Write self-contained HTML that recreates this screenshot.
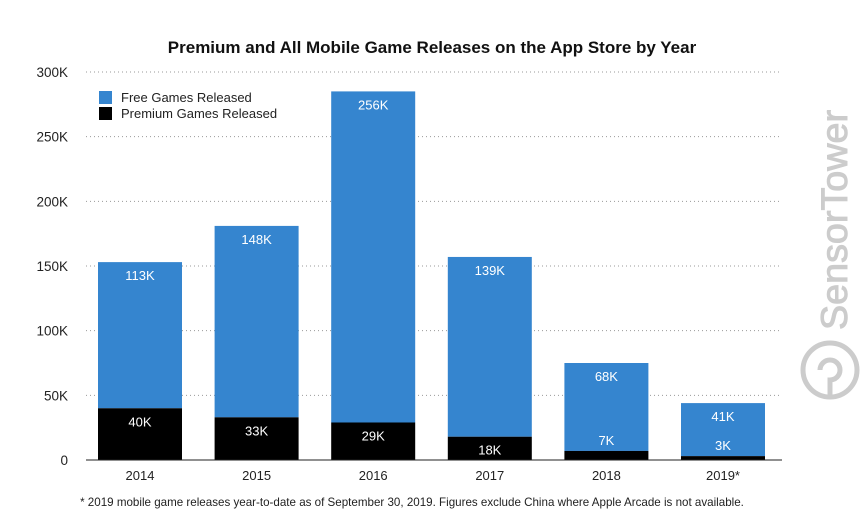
<!DOCTYPE html>
<html><head><meta charset="utf-8"><style>
body{margin:0;background:#fff;}
svg{display:block;font-family:"Liberation Sans",Arial,sans-serif;}
</style></head><body>
<svg id="chart" width="863" height="528" viewBox="0 0 863 528">
<text x="432" y="53" text-anchor="middle" font-size="17" font-weight="bold" fill="#111">Premium and All Mobile Game Releases on the App Store by Year</text>
<g id="grid"></g><g id="bars"></g><g id="labels"></g>
<g>
<rect x="99" y="91" width="13" height="13" fill="#3585cf"/>
<text x="121" y="102" font-size="13" fill="#222">Free Games Released</text>
<rect x="99" y="107" width="13" height="13" fill="#000"/>
<text x="121" y="118" font-size="13" fill="#222">Premium Games Released</text>
</g>
<g fill="none" stroke="#ccc">
<text transform="translate(847,330) rotate(-90)" font-size="37" fill="#ccc" stroke="#ccc" stroke-width="1" textLength="220" lengthAdjust="spacingAndGlyphs">SensorTower</text>
<circle cx="830" cy="370" r="27" stroke-width="5"/>
<path d="M820 370 a10 10 0 1 1 10 10 L830 397" stroke-width="5"/>
</g>
<line x1="86" y1="460" x2="782" y2="460" stroke="#222" stroke-width="1"/>
<text x="412" y="506" text-anchor="middle" font-size="11.6" fill="#222">* 2019 mobile game releases year-to-date as of September 30, 2019. Figures exclude China where Apple Arcade is not available.</text>
</svg>
<script>
const categories=["2014","2015","2016","2017","2018","2019*"];
const premium=[40,33,29,18,7,3];
const free=[113,148,256,139,68,41];
const ticks=[0,50,100,150,200,250,300];
const tickLabels=["0","50K","100K","150K","200K","250K","300K"];
const NS="http://www.w3.org/2000/svg";
const y=v=>460-v*(388/300);
const x=i=>98+i*116.6;
const bw=84;
function mk(tag,at,parent,txt){const e=document.createElementNS(NS,tag);for(const k in at)e.setAttribute(k,at[k]);if(txt!==undefined)e.textContent=txt;document.getElementById(parent).appendChild(e);return e;}
ticks.forEach((t,i)=>{
 if(t>0){const l=mk('line',{x1:86,x2:782,y1:y(t),y2:y(t),stroke:'#999','stroke-dasharray':'1 3'},'grid');
 
 }
 const tx=mk('text',{x:68,y:y(t)+5,'text-anchor':'end','font-size':13.5,fill:'#222'},'grid',tickLabels[i]);
 
 
});
categories.forEach((c,i)=>{
 const tot=premium[i]+free[i];
 const b1=mk('rect',{x:x(i),y:y(tot),width:bw,height:y(premium[i])-y(tot),fill:'#3585cf'},'bars');
 
 
 const b2=mk('rect',{x:x(i),y:y(premium[i]),width:bw,height:460-y(premium[i]),fill:'#000'},'bars');
 
 
 const l1=mk('text',{x:x(i)+bw/2,y:y(tot)+18,'text-anchor':'middle','font-size':13,fill:'#fff'},'labels',free[i]+'K');
 
 
 const py=Math.min(y(premium[i])+18,456);
 const l2=mk('text',{x:x(i)+bw/2,y:premium[i]<10?y(premium[i])-6:py,'text-anchor':'middle','font-size':13,fill:'#fff'},'labels',premium[i]+'K');
 
 
 const xl=mk('text',{x:x(i)+bw/2,y:480,'text-anchor':'middle','font-size':13,fill:'#222'},'labels',c);
 
 
});
</script>
</body></html>
